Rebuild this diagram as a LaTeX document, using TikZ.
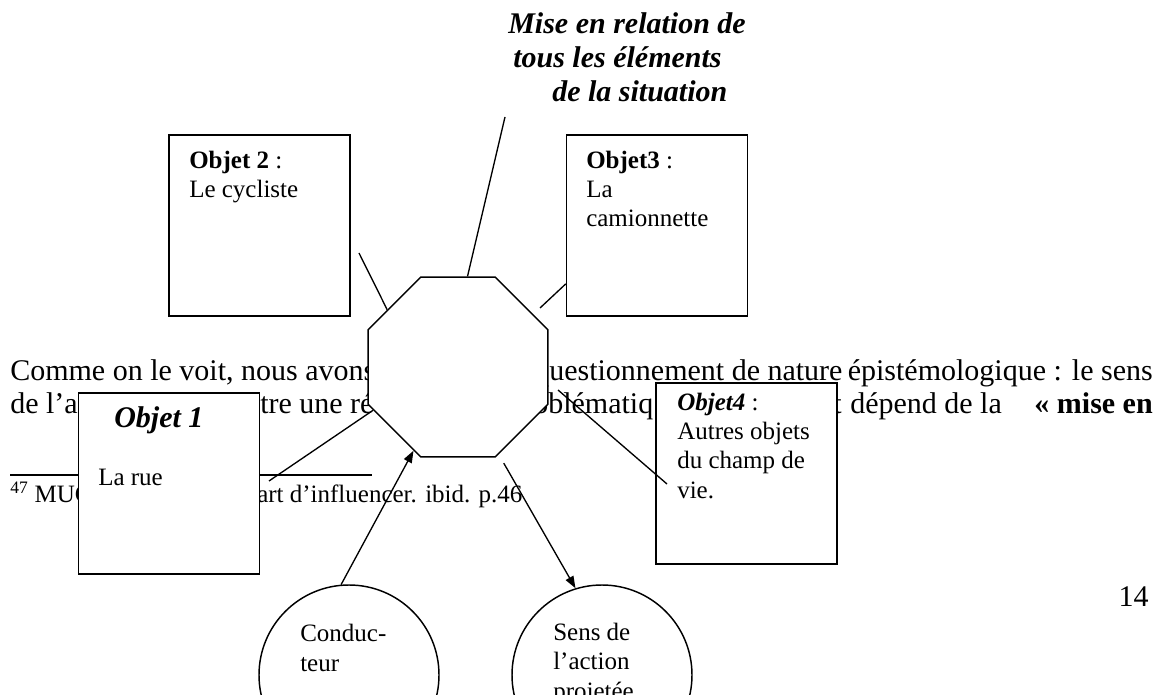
\documentclass[tikz,border=0pt]{standalone}
\usepackage{fontspec}
\setmainfont{Liberation Serif}
\usetikzlibrary{shapes.geometric,arrows.meta,calc}

\tikzset{
  txt/.style={inner sep=0pt, anchor=base west, font=\fontsize{22.5}{34}\selectfont},
  ttl/.style={txt, font=\fontsize{22.5}{34}\selectfont\bfseries\itshape},
  small/.style={inner sep=0pt, anchor=base west, align=left, font=\fontsize{18.75}{21.9}\selectfont},
  box/.style={draw, line width=1.1pt, fill=white, inner sep=0pt,
    minimum width=135.75pt, minimum height=135.75pt},
  oct/.style={draw, line width=1.1pt, fill=white, inner sep=0pt,
    regular polygon, regular polygon sides=8, minimum size=146pt},
  rond/.style={draw, line width=1.1pt, circle, inner sep=0pt, minimum size=135pt},
  lien/.style={line width=1pt},
  fleche/.style={lien, -{Triangle[length=9pt,width=6.5pt]}}
}

\begin{document}
\begin{tikzpicture}[x=0.75pt,y=-0.75pt]
\useasboundingbox (0,0) rectangle (1161,695);
\clip (0,0) rectangle (1161,695);
\fill[white] (0,0) rectangle (1161,695);

% titre
\node[ttl] (ttl1) at (508,34) {Mise en relation de};
\node[ttl] (ttl2) at (513,68) {tous les éléments};
\node[ttl] (ttl3) at (552,102) {de la situation};

% texte de la page
\node[txt] (l1a) at (10,381) {Comme on le voit, nous avons};
\node[txt] (l1b) at (534,381) {questionnement de nature};
\node[txt, anchor=base east] (l1c) at (1153,381) {épistémologique : le sens};
\node[txt] (l2a) at (10,413) {de l’a};
\node[txt] (l2b) at (260,413) {tre une ré};
\node[txt] (l2c) at (533,413) {oblématiq};
\node[txt] (l2d) at (833,413) {t};
\node[txt] (l2e) at (850,413) {dépend de la};
\node[txt, anchor=base east] (l2f) at (1153,413) {\textbf{«~mise en}};
\draw[line width=1.2pt] (10,475) -- (372,475);
\node[small] (fn1) at (10,502) {\textsuperscript{47} MUC};
\node[small] (fn2) at (257,502) {art d’influencer. ibid. p.46};
\node[txt, anchor=base east] (pg) at (1149,606) {14};

% boites (ancre base = derniere ligne)
\node[box] (obj2) at (259.5,225.5) {};
\node[box] (obj3) at (657,225.5) {};
\node[box] (obj1) at (169,483.5) {};
\node[box] (obj4) at (746.5,473.5) {};
\node[small] (obj2txt) at (189,198) {\textbf{Objet 2} :\\Le cycliste};
\node[small] (obj3txt) at (586,227) {\textbf{Objet3} :\\La\\camionnette};
\node[txt] (obj1ttl) at (114,427) {\textbf{\textit{Objet 1}}};
\node[small] (obj1txt) at (98,485) {La rue};
\node[small] (obj4txt) at (677,498) {\textbf{\textit{Objet4}} :\\Autres objets\\du champ de\\vie.};

% octogone et cercles
\node[oct] (oct) at (458,367) {};
\node[rond] (cond) at (349,675) {};
\node[rond] (sens) at (602,675) {};
\node[small] (condtxt) at (300,671) {Conduc-\\teur};
\node[small] (senstxt) at (553,699) {Sens de\\l’action\\projetée};

% liens
\coordinate (cttl) at (505,117);
\coordinate (c2) at (359,253);
\coordinate (c3) at (540,308);
\coordinate (c1) at (269,481);
\coordinate (c4a) at (558,390);
\coordinate (c4b) at (667,484);
\draw[lien] (cttl) -- (oct.84);
\draw[lien] (c2) -- (oct.141);
\draw[lien] ($(obj3.south west)!0.18!(obj3.north west)$) -- (c3);
\draw[lien] (c1) -- (oct.207);
\draw[lien] (c4a) -- (c4b);
\draw[fleche] (cond.95) -- (oct.242);
\draw[fleche, shorten <=7.5pt] (oct.295) -- (sens.107);
\end{tikzpicture}
\end{document}
